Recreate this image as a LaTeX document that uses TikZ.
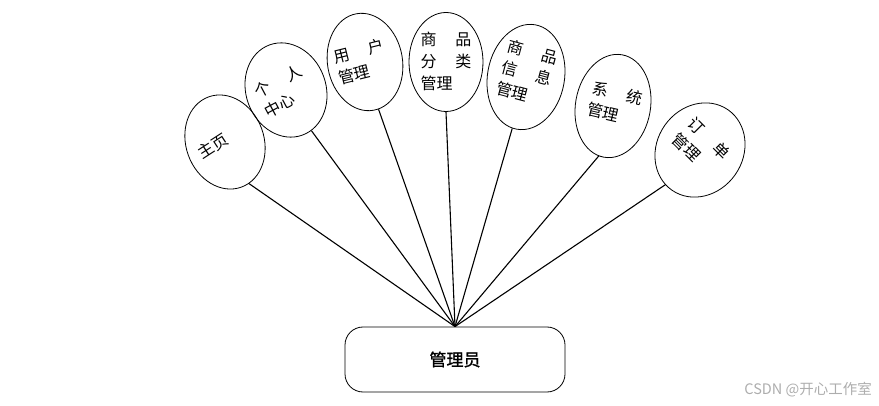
\documentclass[tikz,border=0pt]{standalone}
\usepackage{fontspec}
\setmainfont{Noto Sans CJK SC}
\newfontfamily\boxfont[FakeBold=1.2]{Noto Sans CJK SC}
\usetikzlibrary{shapes.geometric}
\begin{document}
\begin{tikzpicture}[x=1pt,y=-1pt,
  oval/.style={draw, ellipse, line width=0.8pt, inner sep=0pt},
  lbl/.style={align=left, inner sep=0pt, font=\fontsize{16}{22}\selectfont},
  conn/.style={line width=1.1pt}]
\useasboundingbox (0,0) rectangle (879,406);
\def\g{\hspace{19pt}}
% ellipses
\node[oval, minimum width=78pt, minimum height=96pt, rotate=20] (e1) at (225,142) {};
\node[oval, minimum width=80pt, minimum height=96pt, rotate=20] (e2) at (286,90) {};
\node[oval, minimum width=75pt, minimum height=98pt, rotate=10] (e3) at (365,62) {};
\node[oval, minimum width=74pt, minimum height=99pt] (e4) at (446,62) {};
\node[oval, minimum width=77pt, minimum height=106pt, rotate=-10] (e5) at (526,77) {};
\node[oval, minimum width=75pt, minimum height=104pt, rotate=-10] (e6) at (613,106) {};
\node[oval, minimum width=86pt, minimum height=98pt, rotate=-35] (e7) at (700,150) {};
% labels
\node[lbl, rotate=33] (t1) at (213,146) {主页};
\node[lbl, rotate=28] (t2) at (283,91) {个\g 人\\中心};
\node[lbl, rotate=14] (t3) at (361,62) {用\g 户\\管理};
\node[lbl] (t4) at (446,61) {商\g 品\\分\g 类\\管理};
\node[lbl, rotate=-15] (t5) at (527,73) {商\g 品\\信\g 息\\管理};
\node[lbl, rotate=-13] (t6) at (615,104) {系\g 统\\管理};
\node[lbl, rotate=-45] (t7) at (701,146) {订\g 单\\管理};
% admin box
\node[draw, line width=0.8pt, rounded corners=18pt, minimum width=220pt, minimum height=65pt,
      font=\boxfont\fontsize{17}{20}\selectfont] (box) at (455,359.5) {管理员};
% connectors
\draw[conn] (e1.-80) -- (box.north);
\draw[conn] (e2.-78) -- (box.north);
\draw[conn] (e3.-84) -- (box.north);
\draw[conn] (e4.south) -- (box.north);
\draw[conn] (e5.-95) -- (box.north);
\draw[conn] (e6.-96) -- (box.north);
\draw[conn] (e7.-100) -- (box.north);
% watermark
\node[anchor=east, text=black!32, inner sep=0pt, font=\fontsize{14.5}{16}\selectfont] (wm) at (872,390) {CSDN @开心工作室};
\end{tikzpicture}
\end{document}
